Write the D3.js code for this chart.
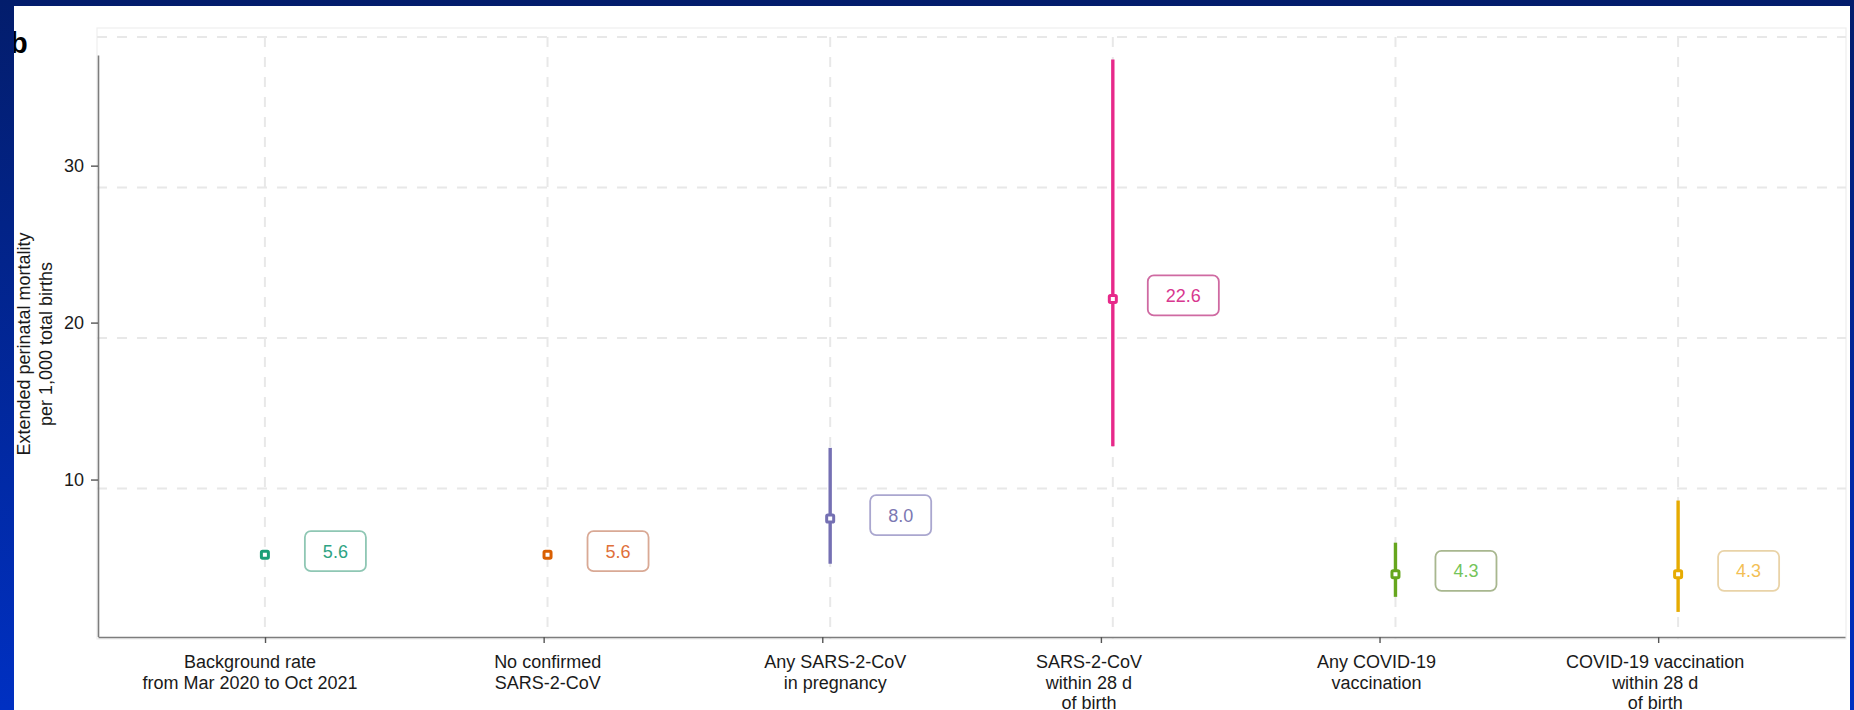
<!DOCTYPE html>
<html><head><meta charset="utf-8">
<script src="https://cdn.jsdelivr.net/npm/d3@7"></script>
<style>
html,body{margin:0;padding:0;background:#fff;}
svg{display:block;}
text{font-family:"Liberation Sans",Arial,Helvetica,sans-serif;}
</style></head><body>
<svg id="chart" width="1854" height="710"></svg>
<script>
// Extended perinatal mortality per 1,000 total births, with 95% CI
const categories = [
  "Background rate\nfrom Mar 2020 to Oct 2021",
  "No confirmed\nSARS-2-CoV",
  "Any SARS-2-CoV\nin pregnancy",
  "SARS-2-CoV\nwithin 28 d\nof birth",
  "Any COVID-19\nvaccination",
  "COVID-19 vaccination\nwithin 28 d\nof birth"
];
const rates   = [5.6, 5.6, 8.0, 22.6, 4.3, 4.3];
const lowerCI = [5.4, 5.4, 5.0, 12.8, 2.8, 1.8];
const upperCI = [5.8, 5.8, 12.7, 38.5, 6.4, 9.2];
const seriesColors = ["#1b9e77", "#d95f02", "#7570b3", "#e7298a", "#66a61e", "#e6ab02"];
const labelTextColors = ["#2ea383", "#e0703a", "#7c78b2", "#d8378f", "#74c45a", "#f3bf55"];
const labelBorderColors = ["#8fc7b4", "#d9a995", "#aaa7cf", "#cf6aa2", "#a8b78f", "#e9d3a8"];
const yTickValues = [10, 20, 30];
const gridValues = [10, 20, 30, 40];

// layout: horizontal nudge of each category caption relative to its tick
const captionNudge = [-15, 4, 13, -12, -3, -3];

const W = 1854, H = 710;
const svg = d3.select("#chart");

// slide frame
const defs = svg.append("defs");
const grad = defs.append("linearGradient").attr("id", "frameGrad")
  .attr("x1", 0).attr("y1", 0).attr("x2", 0).attr("y2", 1);
grad.append("stop").attr("offset", "0%").attr("stop-color", "#031d6c");
grad.append("stop").attr("offset", "100%").attr("stop-color", "#0030c2");
svg.append("rect").attr("width", W).attr("height", H).attr("fill", "url(#frameGrad)");
const panel = {x: 14, y: 6, w: 1836, h: 704};
defs.append("clipPath").attr("id", "panelClip").append("rect")
  .attr("x", panel.x).attr("y", panel.y).attr("width", panel.w).attr("height", panel.h);
svg.append("rect").attr("x", panel.x).attr("y", panel.y)
  .attr("width", panel.w).attr("height", panel.h).attr("fill", "#ffffff");

const g = svg.append("g").attr("clip-path", "url(#panelClip)");

// scales: axis layer and data layer
const idx = d3.range(categories.length);
const xAxisScale = d3.scalePoint().domain(idx).range([98, 1845]).padding(0.635).align(0.472);
const yAxisScale = d3.scaleLinear().domain([0, 37.05]).range([636.5, 55]);
const xData = d3.scalePoint().domain(idx).range([97, 1846]).padding(0.594);
const yData = d3.scaleLinear().domain([0, 40.6]).range([639, 28]);

// panel outline
g.append("rect")
  .attr("x", xData.range()[0]).attr("y", yData(40.6))
  .attr("width", xData.range()[1] - xData.range()[0])
  .attr("height", yData(0) - yData(40.6))
  .attr("fill", "none").attr("stroke", "#efefef").attr("stroke-width", 1.2);

// dashed grid
g.append("g").selectAll("line").data(gridValues).join("line")
  .attr("x1", xData.range()[0]).attr("x2", xData.range()[1])
  .attr("y1", d => yData(d)).attr("y2", d => yData(d))
  .attr("stroke", "#e8e8e8").attr("stroke-width", 2).attr("stroke-dasharray", "10,10");
g.append("g").selectAll("line").data(idx).join("line")
  .attr("x1", d => xData(d)).attr("x2", d => xData(d))
  .attr("y1", yData(40)).attr("y2", yData(0))
  .attr("stroke", "#e8e8e8").attr("stroke-width", 2).attr("stroke-dasharray", "10,10");

// axes
const yAxis = g.append("g").attr("transform", "translate(98,0)")
  .call(d3.axisLeft(yAxisScale).tickValues(yTickValues).tickSize(7).tickPadding(7).tickSizeOuter(0));
const xAxis = g.append("g").attr("transform", "translate(0,637)")
  .call(d3.axisBottom(xAxisScale).tickSize(6).tickSizeOuter(0).tickFormat(""));
[yAxis, xAxis].forEach(a => {
  a.select(".domain").attr("stroke", "#7d7d7d").attr("stroke-width", 1.6);
  a.selectAll(".tick line").attr("stroke", "#555").attr("stroke-width", 1.4);
});
yAxis.selectAll(".tick text").attr("font-size", 18).attr("fill", "#1a1a1a")
  .attr("font-family", "'Liberation Sans', Arial, sans-serif");

// category captions
const catLabels = g.append("g").selectAll("text").data(idx).join("text")
  .attr("text-anchor", "middle").attr("font-size", 18).attr("fill", "#1a1a1a")
  .attr("x", d => xAxisScale(d) + captionNudge[d]).attr("y", 668);
catLabels.each(function (d) {
  const lines = categories[d].split("\n");
  d3.select(this).selectAll("tspan").data(lines).join("tspan")
    .attr("x", xAxisScale(d) + captionNudge[d])
    .attr("dy", (l, i) => i === 0 ? 0 : 20.5).text(l => l);
});

// y axis title
g.append("text")
  .attr("transform", "translate(29.5,344) rotate(-90)")
  .attr("text-anchor", "middle").attr("font-size", 18).attr("fill", "#1a1a1a")
  .selectAll("tspan").data(["Extended perinatal mortality", "per 1,000 total births"]).join("tspan")
  .attr("x", 0).attr("dy", (l, i) => i === 0 ? 0 : 22).text(l => l);

// panel letter
g.append("text").attr("x", 10).attr("y", 53)
  .attr("font-size", 29).attr("font-weight", "bold").attr("fill", "#000").text("b");

// confidence intervals
g.append("g").selectAll("line").data(idx).join("line")
  .attr("x1", d => xData(d)).attr("x2", d => xData(d))
  .attr("y1", d => yData(lowerCI[d])).attr("y2", d => yData(upperCI[d]))
  .attr("stroke", d => seriesColors[d]).attr("stroke-width", 3.4);

// point estimates
g.append("g").selectAll("rect").data(idx).join("rect")
  .attr("x", d => xData(d) - 3.5).attr("y", d => yData(rates[d]) - 3.5)
  .attr("width", 7).attr("height", 7).attr("rx", 1.2)
  .attr("fill", "#fff").attr("stroke", d => seriesColors[d]).attr("stroke-width", 3);

// value labels
const boxDx = 70.5, boxDy = -3.5, boxH = 40, padX = 18;
const lbl = g.append("g").selectAll("g").data(idx).join("g")
  .attr("transform", d => `translate(${xData(d) + boxDx},${yData(rates[d]) + boxDy})`);
lbl.append("text").attr("text-anchor", "middle").attr("dy", "0.36em")
  .attr("font-size", 18).attr("fill", d => labelTextColors[d])
  .text(d => d3.format(".1f")(rates[d]));
lbl.each(function (d) {
  const t = d3.select(this).select("text");
  const w = t.node().getComputedTextLength() + 2 * padX;
  d3.select(this).insert("rect", "text")
    .attr("x", -w / 2).attr("y", -boxH / 2).attr("width", w).attr("height", boxH)
    .attr("rx", 6).attr("fill", "#fff")
    .attr("stroke", labelBorderColors[d]).attr("stroke-width", 1.8);
});
</script>
</body></html>
